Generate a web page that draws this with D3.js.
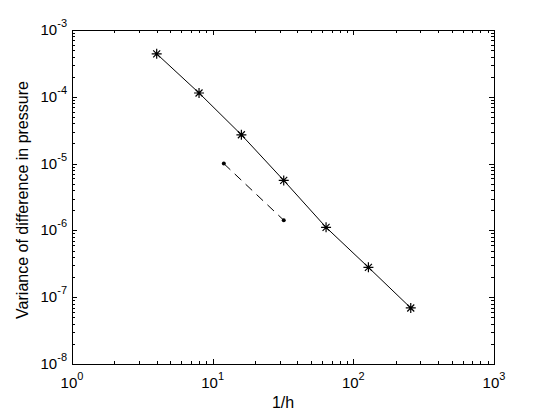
<!DOCTYPE html>
<html>
<head>
<meta charset="utf-8">
<script src="https://cdn.jsdelivr.net/npm/d3@7"></script>
<style>
  body { margin: 0; background: #fff; }
  svg { display: block; }
  text { font-family: "Liberation Sans", Arial, sans-serif; fill: #000; }
</style>
</head>
<body>
<svg class="chart"></svg>
<script>
// data
const hInv = [4, 8, 16, 32, 64, 128, 256];
const variance = [4.4e-4, 1.14e-4, 2.7e-5, 5.6e-6, 1.11e-6, 2.8e-7, 6.9e-8];
const hInvDashed = [12, 32];
const varianceDashed = [1.0e-5, 1.42e-6];
const xTickExp = [0, 1, 2, 3];
const yTickExp = [-8, -7, -6, -5, -4, -3];

const w = 547;
const h = 414;
const plotLeft = 72, plotRight = 494, plotTop = 30, plotBottom = 364;

const svg = d3.select('svg.chart').attr('width', w).attr('height', h);

const x = d3.scaleLog().domain([1, 1000]).range([plotLeft, plotRight]);
const y = d3.scaleLog().domain([1e-8, 1e-3]).range([plotBottom, plotTop]);

const xMajor = xTickExp.map(e => Math.pow(10, e));
const yMajor = yTickExp.map(e => Math.pow(10, e));

// minor ticks 2..9 in each decade
const minors = majors => {
    let out = [];
    majors.slice(0, -1).forEach(m => {
        for (let k = 2; k < 10; k++) out.push(m * k);
    });
    return out;
};

const axisG = svg.append('g').attr('shape-rendering', 'crispEdges');

const drawAxis = (axisFn, scale, values, size, transform) => {
    const g = axisG.append('g')
        .attr('transform', transform)
        .call(axisFn(scale).tickValues(values).tickSize(size).tickSizeOuter(0).tickFormat(''));
    g.select('.domain').remove();
    g.selectAll('line').attr('stroke', '#000');
};

// ticks point inward on all four sides
drawAxis(d3.axisBottom, x, xMajor, -5, `translate(0,${plotBottom})`);
drawAxis(d3.axisBottom, x, minors(xMajor), -3, `translate(0,${plotBottom})`);
drawAxis(d3.axisTop, x, xMajor, -5, `translate(0,${plotTop})`);
drawAxis(d3.axisTop, x, minors(xMajor), -3, `translate(0,${plotTop})`);
drawAxis(d3.axisLeft, y, yMajor, -5, `translate(${plotLeft},0)`);
drawAxis(d3.axisLeft, y, minors(yMajor), -3, `translate(${plotLeft},0)`);
drawAxis(d3.axisRight, y, yMajor, -5, `translate(${plotRight},0)`);
drawAxis(d3.axisRight, y, minors(yMajor), -3, `translate(${plotRight},0)`);

// box
axisG.append('rect')
    .attr('x', plotLeft + 0.5)
    .attr('y', plotTop + 0.5)
    .attr('width', plotRight - plotLeft)
    .attr('height', plotBottom - plotTop)
    .attr('fill', 'none')
    .attr('stroke', '#000');

// tick labels as 10^e
const powLabel = (g, e) => {
    const t = g.append('text').style('font-size', '15px');
    t.append('tspan').text('10');
    t.append('tspan').attr('dy', -8).style('font-size', '11px').text(e);
    return t;
};

xTickExp.forEach(e => {
    powLabel(svg.append('g'), e)
        .attr('x', x(Math.pow(10, e)))
        .attr('y', plotBottom + 24)
        .attr('text-anchor', 'middle');
});

yTickExp.forEach(e => {
    powLabel(svg.append('g'), e)
        .attr('x', plotLeft - 5)
        .attr('y', y(Math.pow(10, e)) + 5)
        .attr('text-anchor', 'end');
});

svg.append('text')
    .attr('x', (plotLeft + plotRight) / 2)
    .attr('y', 408)
    .attr('text-anchor', 'middle')
    .style('font-size', '16px')
    .text('1/h');

svg.append('text')
    .attr('transform', `translate(28,200) rotate(-90)`)
    .attr('text-anchor', 'middle')
    .style('font-size', '16px')
    .text('Variance of difference in pressure');

// lines
const line = d3.line().x(d => x(d[0])).y(d => y(d[1]));
const solid = hInv.map((v, i) => [v, variance[i]]);
const dashed = hInvDashed.map((v, i) => [v, varianceDashed[i]]);

svg.append('path')
    .attr('d', line(solid))
    .attr('fill', 'none')
    .attr('stroke', '#000')
    .attr('stroke-width', 1);

svg.append('path')
    .attr('d', line(dashed))
    .attr('fill', 'none')
    .attr('stroke', '#000')
    .attr('stroke-width', 1)
    .attr('stroke-dasharray', '9,6');

// star markers: + and x combined
const star = 'M-5,0H5M0,-5V5M-3.5,-3.5L3.5,3.5M-3.5,3.5L3.5,-3.5';
svg.append('g').selectAll('path')
    .data(solid)
    .enter()
    .append('path')
    .attr('transform', d => `translate(${x(d[0])},${y(d[1])})`)
    .attr('d', star)
    .attr('stroke', '#000')
    .attr('stroke-width', 1.2)
    .attr('fill', 'none');

// dot markers
svg.append('g').selectAll('circle')
    .data(dashed)
    .enter()
    .append('circle')
    .attr('cx', d => x(d[0]))
    .attr('cy', d => y(d[1]))
    .attr('r', 2)
    .attr('fill', '#000');
</script>
</body>
</html>
